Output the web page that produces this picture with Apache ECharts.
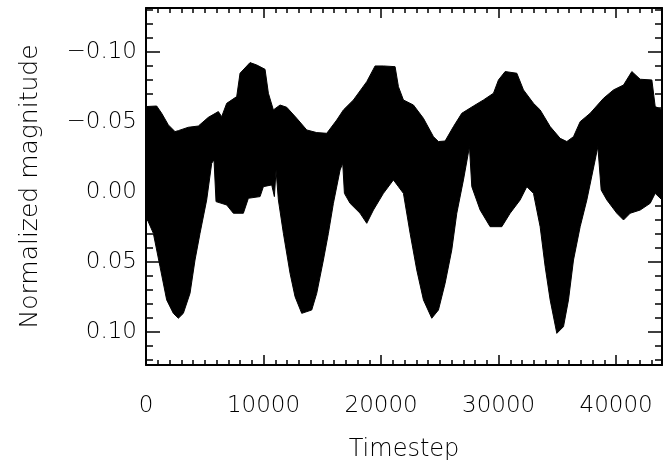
<!DOCTYPE html>
<html>
<head>
<meta charset="utf-8">
<script src="https://cdn.jsdelivr.net/npm/echarts@6/dist/echarts.min.js"></script>
<style>
  html, body { margin: 0; padding: 0; background: #fff; }
  #main { width: 664px; height: 460px; }
</style>
</head>
<body>
<div id="main"></div>
<script>
  // upper edge of the light-curve band (more negative = brighter, drawn on top)
  var topX = [0, 908, 1333, 1901, 2468, 2752, 3603, 4454, 5305, 6156, 6440, 6866, 7717, 8000, 8851, 9419, 10128, 10412, 10837, 11405, 11972, 12823, 13674, 14525, 15377, 16228, 16795, 17646, 18781, 19490, 20199, 21192, 21476, 21902, 22753, 23604, 24455, 24880, 25448, 26157, 26866, 27859, 28710, 29562, 29987, 30555, 31548, 32115, 32966, 33533, 34384, 35235, 35803, 36370, 36937, 37788, 38924, 39775, 40626, 41335, 42045, 43037, 43321, 43900];
  var topY = [-0.0610, -0.0614, -0.0562, -0.0479, -0.0431, -0.0438, -0.0462, -0.0471, -0.0533, -0.0574, -0.0538, -0.0633, -0.0681, -0.0848, -0.0924, -0.0907, -0.0876, -0.0705, -0.0586, -0.0621, -0.0605, -0.0526, -0.0443, -0.0424, -0.0419, -0.0514, -0.0586, -0.0657, -0.0788, -0.0900, -0.0900, -0.0895, -0.0752, -0.0657, -0.0621, -0.0526, -0.0395, -0.0360, -0.0364, -0.0467, -0.0562, -0.0614, -0.0657, -0.0705, -0.0800, -0.0860, -0.0848, -0.0729, -0.0633, -0.0586, -0.0467, -0.0383, -0.0360, -0.0395, -0.0502, -0.0562, -0.0669, -0.0729, -0.0764, -0.0860, -0.0805, -0.0800, -0.0610, -0.0586];

  // lower edge of the band (eclipse dips)
  var botX = [0, 624, 1192, 1759, 2326, 2752, 3177, 3745, 4170, 4596, 5163, 5589, 5787, 5958, 6866, 7433, 8284, 8710, 9703, 9986, 10695, 10922, 11064, 11263, 11688, 12256, 12681, 13249, 14100, 14525, 15092, 15518, 15943, 16511, 16738, 16880, 17362, 18214, 18781, 19348, 20199, 21050, 21476, 21902, 22469, 23036, 23604, 24313, 24880, 25448, 26015, 26441, 27008, 27519, 27717, 28427, 29278, 30271, 30980, 31831, 32399, 32966, 33533, 33959, 34384, 34952, 35519, 35945, 36370, 36937, 37505, 38214, 38441, 38725, 39207, 40058, 40626, 41193, 42045, 42896, 43321, 43900];
  var botY = [0.0176, 0.0295, 0.0533, 0.0771, 0.0867, 0.0902, 0.0867, 0.0724, 0.0486, 0.0295, 0.0057, -0.0205, -0.0229, 0.0069, 0.0093, 0.0152, 0.0152, 0.0045, 0.0033, -0.0038, -0.0050, 0.0033, -0.0157, 0.0057, 0.0295, 0.0581, 0.0748, 0.0867, 0.0843, 0.0724, 0.0486, 0.0295, 0.0081, -0.0157, -0.0205, 0.0010, 0.0081, 0.0152, 0.0224, 0.0129, 0.0010, -0.0086, -0.0038, 0.0010, 0.0295, 0.0557, 0.0771, 0.0902, 0.0843, 0.0652, 0.0414, 0.0152, -0.0086, -0.0324, -0.0038, 0.0129, 0.0248, 0.0248, 0.0152, 0.0057, -0.0038, 0.0010, 0.0248, 0.0533, 0.0771, 0.1010, 0.0962, 0.0771, 0.0486, 0.0248, 0.0057, -0.0229, -0.0324, -0.0014, 0.0057, 0.0152, 0.0200, 0.0152, 0.0129, 0.0081, 0.0010, 0.0057];

  var xTicks = [0, 10000, 20000, 30000, 40000];
  var yTicks = [-0.10, -0.05, 0, 0.05, 0.10];

  var xMin = 0, xMax = 43900;
  var yMin = -0.1314, yMax = 0.1236;

  var xMinor = [];
  for (var i = 1000; i < xMax; i += 1000) xMinor.push(i);
  var yMinor = [];
  for (var k = -13; k <= 12; k++) yMinor.push(k / 100);

  var font = 'DejaVu Sans';
  var ink = '#000';

  function fmtY(v) {
    var s = Math.abs(v).toFixed(2);
    return v < -1e-9 ? '\u2212' + s : s;
  }

  function xAxisOf(pos, ticks, len, main) {
    return {
      type: 'value', position: pos, min: xMin, max: xMax,
      name: main ? 'Timestep' : '',
      nameLocation: 'middle', nameGap: 73,
      nameTextStyle: { fontFamily: font, fontSize: 24, fontWeight: 200, color: ink },
      axisLine: { show: len > 6, onZero: false, lineStyle: { color: ink, width: 2 } },
      axisTick: { show: true, inside: true, length: len, customValues: ticks, lineStyle: { color: ink, width: 1.5 } },
      axisLabel: {
        show: main, customValues: xTicks, margin: 30,
        fontFamily: font, fontSize: 23, fontWeight: 200, color: ink,
        formatter: function (v) { return String(v); }
      },
      splitLine: { show: false }
    };
  }

  function yAxisOf(pos, ticks, len, main) {
    return {
      type: 'value', position: pos, inverse: true, min: yMin, max: yMax,
      name: main ? 'Normalized magnitude' : '',
      nameLocation: 'middle', nameGap: 103,
      nameTextStyle: { fontFamily: font, fontSize: 25, fontWeight: 200, color: ink },
      axisLine: { show: len > 8, onZero: false, lineStyle: { color: ink, width: 2 } },
      axisTick: { show: true, inside: true, length: len, customValues: ticks, lineStyle: { color: ink, width: 1.5 } },
      axisLabel: {
        show: main, customValues: yTicks, margin: 9,
        fontFamily: font, fontSize: 23, fontWeight: 200, color: ink,
        formatter: fmtY
      },
      splitLine: { show: false }
    };
  }

  var chart = echarts.init(document.getElementById('main'), null, { renderer: 'canvas' });

  var option = {
    animation: false,
    backgroundColor: '#fff',
    grid: { left: 146, top: 8, right: 2, bottom: 95, containLabel: false, outerBoundsMode: 'none' },
    xAxis: [
      xAxisOf('bottom', xTicks, 10, true),
      xAxisOf('bottom', xMinor, 5, false),
      xAxisOf('top', xTicks, 10, false),
      xAxisOf('top', xMinor, 5, false)
    ],
    yAxis: [
      yAxisOf('left', yTicks, 14, true),
      yAxisOf('left', yMinor, 7, false),
      yAxisOf('right', yTicks, 14, false),
      yAxisOf('right', yMinor, 7, false)
    ],
    series: [{
      type: 'custom',
      xAxisIndex: 0,
      yAxisIndex: 0,
      clip: true,
      data: [[0, 0]],
      renderItem: function (params, api) {
        var pts = [];
        for (var i = 0; i < topX.length; i++) pts.push(api.coord([topX[i], topY[i]]));
        for (var j = botX.length - 1; j >= 0; j--) pts.push(api.coord([botX[j], botY[j]]));
        return {
          type: 'polygon',
          shape: { points: pts },
          style: { fill: '#000', stroke: '#000', lineWidth: 1 }
        };
      }
    }]
  };

  chart.setOption(option);
</script>
</body>
</html>
